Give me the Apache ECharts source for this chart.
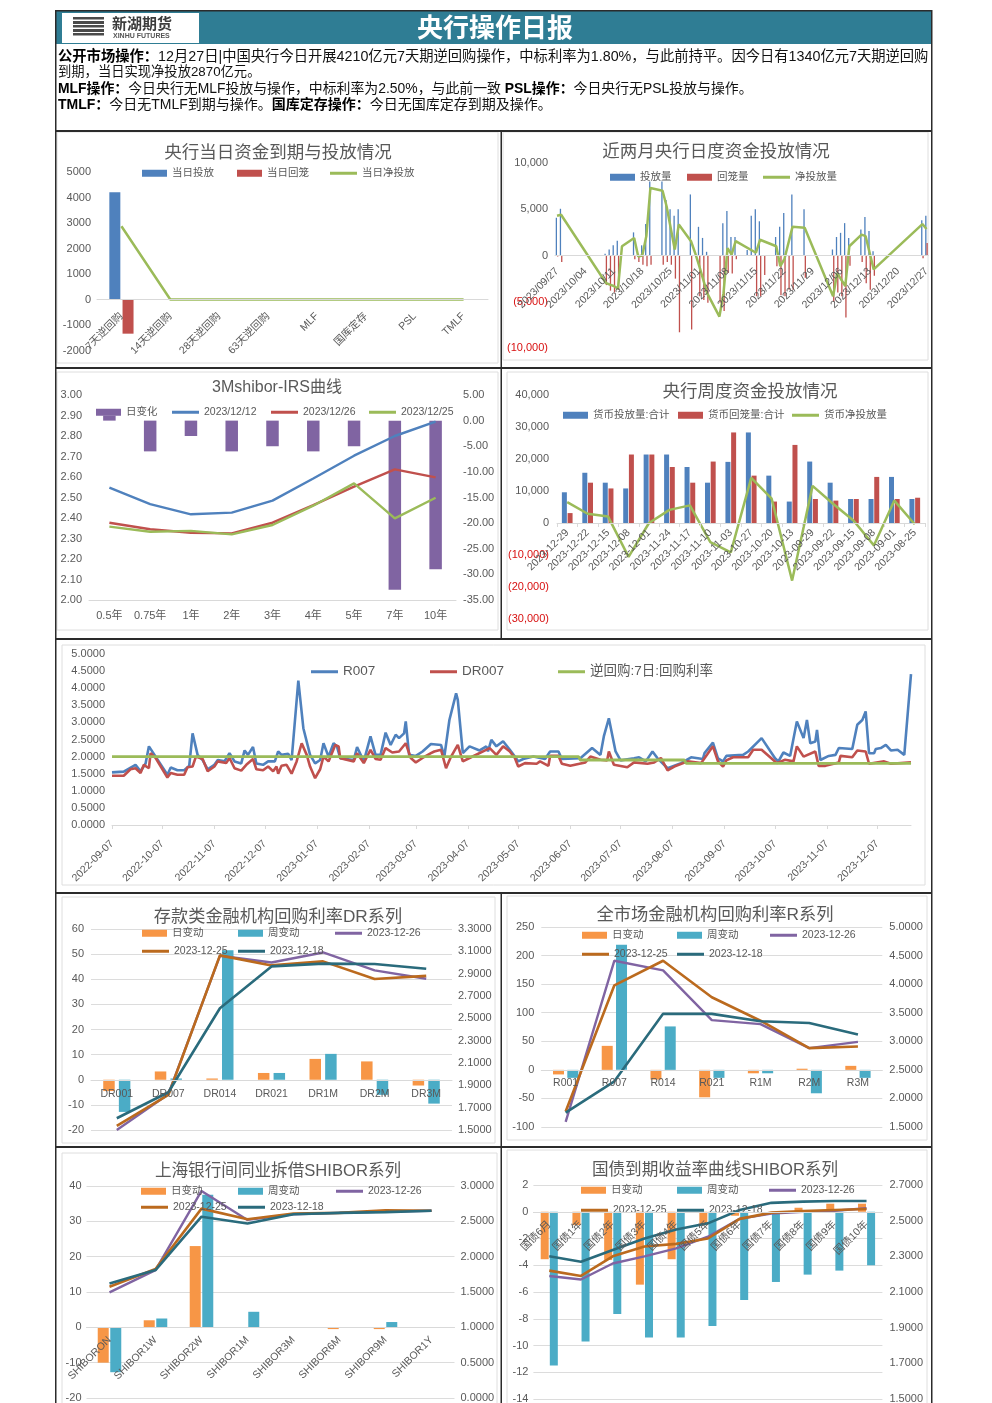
<!DOCTYPE html>
<html><head><meta charset="utf-8">
<style>html,body{margin:0;padding:0;background:#fff}#c{width:992px;height:1403px}</style>
<script src="https://cdn.jsdelivr.net/npm/echarts@6/dist/echarts.min.js"></script>
</head><body><div id="c"></div>
<script>
// ---------- data ----------
const todayCats=['7天逆回购','14天逆回购','28天逆回购','63天逆回购','MLF','国库定存','PSL','TMLF'];
const todayIn=[4210,0,0,0,0,0,0,0];
const todayOut=[-1340,0,0,0,0,0,0,0];
const todayNet=[2870,0,0,0,0,0,0,0];

// daily: [day index from 2023-09-27, value]
const dailyIn=[[0,4080],[1,5050],[12,200],[13,650],[14,1100],[15,1600],[19,2500],[21,1100],[22,3400],[23,8000],[26,8000],[27,6000],[28,5000],[29,4300],[30,5000],[33,6600],[35,3100],[36,1900],[37,400],[41,3500],[42,4800],[43,2000],[44,2000],[47,600],[48,4300],[49,5000],[50,3700],[54,2000],[55,3100],[56,4600],[58,6600],[61,5000],[68,650],[69,2000],[70,2450],[71,3500],[72,1900],[75,2800],[76,4150],[77,2650],[78,470],[90,3800],[91,4300]];
const dailyOut=[[0,-100],[1,-700],[12,-3200],[13,-3800],[14,-4000],[15,-3700],[19,-400],[20,-700],[21,-1000],[22,-1150],[23,-1000],[26,-1000],[27,-700],[28,-1000],[29,-2500],[30,-8300],[33,-8000],[35,-4400],[36,-4800],[37,-5100],[40,-5100],[41,-6000],[42,-1900],[43,-1950],[44,-400],[49,-4400],[50,-4400],[51,-2100],[54,-1150],[55,-4300],[56,-4400],[57,-3700],[58,-3700],[61,-2400],[68,-5000],[69,-4000],[70,-4400],[71,-6700],[72,-1100],[75,-700],[76,-3000],[77,-3700],[78,-2200],[90,-300],[91,1340]];
const dailyNet=[[0,4300],[1,4400],[12,-2950],[13,-3150],[14,-3300],[15,-3600],[16,1000],[19,1900],[20,-100],[21,0],[22,2100],[23,7300],[26,7000],[27,5300],[29,650],[30,3350],[33,1550],[34,300],[35,-1100],[37,-4100],[40,-6600],[41,-4100],[42,800],[43,100],[44,1550],[49,300],[50,1700],[54,1000],[55,-1150],[56,-400],[58,3100],[61,3000],[68,-4400],[69,-1900],[71,-3300],[72,1000],[75,2250],[76,2100],[78,-1500],[90,3400],[91,2870]];

const irsTenors=['0.5年','0.75年','1年','2年','3年','4年','5年','7年','10年'];
const irsChange=[1,-6,-3,-6,-5,-6,-5,-33,-29];
const irs1212=[2.548,2.468,2.418,2.426,2.485,2.593,2.704,2.80,2.87];
const irs1226=[2.377,2.345,2.328,2.325,2.377,2.463,2.553,2.637,2.598];
const irs1225=[2.358,2.333,2.337,2.32,2.366,2.46,2.569,2.398,2.499];

const weekDates=['2023-12-29','2023-12-22','2023-12-15','2023-12-08','2023-12-01','2023-11-24','2023-11-17','2023-11-10','2023-11-03','2023-10-27','2023-10-20','2023-10-13','2023-09-29','2023-09-22','2023-09-15','2023-09-08','2023-09-01','2023-08-25'];
const weekIn=[9600,15700,12600,10800,21400,21400,17500,12600,19100,28300,14800,6700,19200,12600,7500,7500,14400,7500];
const weekOut=[3100,12600,10800,21400,21400,17500,12600,19200,28300,14800,6700,24400,7500,7000,7500,14400,7500,7900];
const weekNet=[6500,2900,2000,-10600,0,4100,5500,-6000,-9200,14100,7600,-18000,11600,6000,800,-7000,7000,-400];

// rates: [day index from 2022-09-07, value]
const r007=[[0,1.54],[7,1.56],[14,1.76],[17,1.57],[20,1.8],[22,2.3],[26,2.0],[33,1.47],[35,1.68],[39,1.6],[43,1.6],[46,1.73],[48,2.68],[51,2.05],[54,1.9],[57,1.63],[61,1.76],[63,1.9],[67,1.86],[70,2.1],[73,1.86],[77,1.8],[79,2.18],[81,2.05],[84,2.28],[86,1.8],[90,1.76],[93,1.86],[97,1.86],[99,2.15],[101,2.05],[105,2.08],[107,1.9],[111,4.22],[114,2.83],[118,2.05],[121,1.8],[124,1.9],[126,2.39],[129,2.0],[132,2.39],[134,2.3],[136,1.95],[144,1.9],[146,2.28],[150,1.86],[154,2.59],[157,2.05],[160,2.05],[163,2.7],[166,2.34],[169,2.64],[171,2.54],[174,2.68],[175,3.03],[177,2.05],[181,2.02],[185,2.15],[190,2.37],[196,2.34],[198,2.0],[201,3.07],[205,3.85],[206,3.66],[209,2.1],[213,2.3],[219,2.18],[223,2.3],[224,2.15],[226,2.49],[229,2.3],[233,2.45],[237,2.2],[240,2.0],[242,1.86],[245,1.93],[251,2.0],[258,1.93],[261,2.15],[266,2.15],[268,1.93],[279,1.95],[286,2.25],[291,2.05],[293,2.59],[296,3.12],[300,2.15],[303,1.89],[311,1.95],[314,1.98],[318,1.86],[322,2.15],[325,1.95],[331,1.66],[339,1.81],[345,1.98],[352,1.93],[353,2.1],[358,2.41],[361,1.95],[364,1.86],[366,2.02],[376,2.05],[379,2.15],[387,2.54],[395,1.95],[397,1.86],[400,2.12],[404,2.02],[408,3.03],[412,2.54],[414,3.07],[416,2.39],[419,2.44],[420,2.78],[422,1.9],[427,2.02],[431,2.05],[433,2.25],[441,2.22],[444,2.93],[447,3.07],[449,3.32],[451,2.1],[454,2.1],[455,2.22],[458,2.25],[461,2.34],[464,2.18],[468,2.2],[472,2.05],[476,4.41]];
const dr007=[[0,1.44],[7,1.44],[11,1.63],[14,1.66],[17,1.52],[19,1.76],[22,1.66],[23,2.1],[26,1.96],[33,1.39],[35,1.52],[39,1.47],[43,1.47],[45,1.69],[48,1.71],[50,2.0],[54,1.93],[57,1.57],[61,1.71],[63,1.86],[68,1.81],[70,1.96],[73,1.66],[77,1.59],[80,1.76],[84,1.93],[86,1.63],[90,1.6],[93,1.71],[96,1.57],[98,1.71],[99,1.5],[101,1.73],[104,1.76],[107,1.5],[110,1.86],[113,2.39],[116,2.05],[118,1.71],[121,1.37],[124,1.63],[126,2.0],[129,1.86],[133,2.34],[135,2.3],[136,1.95],[144,1.86],[146,2.1],[150,1.81],[154,2.2],[157,1.93],[160,1.91],[163,2.25],[167,2.12],[171,2.15],[175,2.39],[178,1.96],[181,1.83],[185,1.96],[190,2.1],[192,2.15],[196,2.2],[199,1.66],[202,2.0],[206,2.34],[209,1.86],[213,1.96],[225,2.25],[229,2.05],[233,2.3],[237,2.15],[240,1.96],[242,1.71],[246,1.81],[253,1.79],[255,1.86],[260,1.73],[261,2.02],[266,2.02],[268,1.79],[273,1.73],[282,1.83],[285,2.0],[291,1.91],[295,1.89],[296,2.15],[299,1.76],[307,1.69],[311,1.83],[319,1.79],[323,1.83],[327,1.96],[331,1.6],[335,1.71],[343,1.86],[351,1.81],[358,2.3],[361,1.86],[364,1.71],[366,1.89],[370,1.98],[379,1.98],[382,2.2],[387,2.2],[396,1.81],[401,1.91],[406,1.86],[408,2.3],[412,2.0],[419,2.15],[421,1.73],[425,1.73],[433,1.83],[434,2.02],[441,1.98],[444,2.18],[449,2.15],[451,1.79],[460,1.86],[464,1.79],[476,1.83]];
const repo7d=[[0,2.0],[278,2.0],[279,1.9],[341,1.9],[342,1.8],[476,1.8]];

const drCats=['DR001','DR007','DR014','DR021','DR1M','DR2M','DR3M'];
const drDay=[-4.5,3.3,0.5,2.7,8.3,7.3,-2.3];
const drWeek=[-12.8,0.5,51.5,2.7,10.3,-6,-9.5];
const dr1226=[1.5,1.82,3.06,3.0,3.09,2.93,2.855];
const dr1225=[1.536,1.814,3.064,2.974,3.01,2.852,2.88];
const dr1218=[1.605,1.838,2.59,2.965,2.99,2.986,2.944];

const rCats=['R001','R007','R014','R021','R1M','R2M','R3M'];
const rDay=[-8,42,-17,-48,-6,2,7];
const rWeek=[-14,219,76,-14,-6,-41,-14];
const r1226=[1.59,4.41,4.24,3.37,3.30,2.88,2.99];
const r1225=[1.77,3.98,4.41,3.77,3.36,2.88,2.91];
const r1218=[1.75,2.3,3.48,3.48,3.35,3.32,3.12];

const shCats=['SHIBORON','SHIBOR1W','SHIBOR2W','SHIBOR1M','SHIBOR3M','SHIBOR6M','SHIBOR9M','SHIBOR1Y'];
const shDay=[-10,2,23,0,0,-0.5,-0.5,0];
const shWeek=[-12.7,2.5,37.5,4.4,0,0,1.5,0];
const sh1226=[1.495,1.81,2.93,2.52,2.60,2.62,2.64,2.65];
const sh1225=[1.575,1.825,2.68,2.53,2.61,2.62,2.655,2.65];
const sh1218=[1.62,1.81,2.566,2.47,2.60,2.62,2.63,2.65];

const gvCats=['国债6月','国债1年','国债2年','国债3年','国债4年','国债5年','国债6年','国债7年','国债8年','国债9年','国债10年'];
const gvDay=[-3.55,-1,-3.6,-5.45,-3.55,-1,-0.3,0,0.3,0.6,0.6];
const gvWeek=[-11.5,-9.7,-7.65,-9.4,-9.4,-8.55,-6.6,-5.25,-4.7,-4.4,-4];
const gv1226=[2.19,2.17,2.26,2.30,2.345,2.41,2.51,2.54,2.55,2.556,2.57];
const gv1225=[2.22,2.19,2.30,2.355,2.37,2.40,2.51,2.545,2.554,2.56,2.565];
const gv1218=[2.30,2.27,2.335,2.40,2.45,2.485,2.56,2.60,2.607,2.61,2.61];

const headerLines=[
 '{b|公开市场操作：}12月27日|中国央行今日开展4210亿元7天期逆回购操作，中标利率为1.80%，与此前持平。因今日有1340亿元7天期逆回购',
 '到期，当日实现净投放2870亿元。',
 '{b|MLF操作：}今日央行无MLF投放与操作，中标利率为2.50%，与此前一致 {b|PSL操作：}今日央行无PSL投放与操作。',
 '{b|TMLF：}今日无TMLF到期与操作。{b|国库定存操作：}今日无国库定存到期及操作。'
];

function dayList(startUTC,count,sep){
  const out=[];
  for(let i=0;i<count;i++){
    const d=new Date(startUTC+i*86400000);
    const p=n=>String(n).padStart(2,'0');
    out.push(d.getUTCFullYear()+sep+p(d.getUTCMonth()+1)+sep+p(d.getUTCDate()));
  }
  return out;
}
const dailyDates=dayList(Date.UTC(2023,8,27),92,'/');
const rateDates=dayList(Date.UTC(2022,8,7),477,'-');

// ---------- helpers ----------
const FONT='"Liberation Sans","Noto Sans CJK SC",sans-serif';
const GREY='#595959', AXIS='#d9d9d9', SPLIT='#dcdcdc';
const C={blue:'#4f81bd',red:'#c0504d',green:'#9bbb59',purple:'#8064a2',orange:'#f79646',teal:'#4bacc6',brown:'#bb6a1e',dark:'#2a6b7c'};
const O={title:[],legend:[],grid:[],xAxis:[],yAxis:[],series:[],graphic:[]};
function addTitle(text,cx,cy,size){
  O.title.push({text,left:cx,top:cy-size*0.5,textAlign:'center',padding:0,
    textStyle:{color:GREY,fontSize:size,fontWeight:'normal',fontFamily:FONT}});
}
function addLegend(name,x,y,kind,size){
  const isBar=kind==='bar';
  O.legend.push({data:[{name,icon:'rect'}],left:x,top:y-6,padding:0,selectedMode:false,orient:'horizontal',
    itemWidth:isBar?25:27,itemHeight:isBar?7:3,itemGap:0,
    textStyle:{color:GREY,fontSize:size||10.5,fontFamily:FONT}});
}
function addGrid(l,t,w,h){O.grid.push({left:l,top:t,width:w,height:h,containLabel:false,outerBoundsMode:'none'});return O.grid.length-1;}
function addX(grid,data,opts){
  const o=opts||{};
  O.xAxis.push({type:'category',gridIndex:grid,data,boundaryGap:o.boundaryGap!==false,position:'bottom',offset:o.offset||0,z:5,
    axisLine:{show:true,onZero:false,lineStyle:{color:AXIS,width:1}},
    axisTick:{show:!!o.tick,length:4,alignWithLabel:false,interval:o.interval!==undefined?o.interval:0,lineStyle:{color:AXIS}},
    axisLabel:{show:true,interval:o.interval!==undefined?o.interval:0,rotate:o.rotate||0,margin:o.margin||8,hideOverlap:false,
      color:GREY,fontSize:o.size||10.5,fontFamily:FONT},
    splitLine:{show:false}});
  return O.xAxis.length-1;
}
function addY(grid,min,max,interval,opts){
  const o=opts||{};
  O.yAxis.push({type:'value',gridIndex:grid,min,max,interval,position:o.right?'right':'left',
    axisLine:{show:false},axisTick:{show:false},
    splitLine:{show:!!o.split,lineStyle:{color:SPLIT,width:1}},
    axisLabel:{show:true,margin:o.margin||7,color:o.color||GREY,fontSize:11,fontFamily:FONT,formatter:o.fmt,showMinLabel:true,showMaxLabel:true}});
  return O.yAxis.length-1;
}
function bar(name,data,x,y,color,w,gap){
  O.series.push({type:'bar',name,data,xAxisIndex:x,yAxisIndex:y,barWidth:w,barGap:gap,
    itemStyle:{color},emphasis:{disabled:true},z:2});
}
function line(name,data,x,y,color,w){
  O.series.push({type:'line',name,data,xAxisIndex:x,yAxisIndex:y,symbol:'none',smooth:false,
    lineStyle:{color,width:w||2.4},itemStyle:{color},emphasis:{disabled:true},z:3});
}
const paren=v=>v<0?'('+Math.abs(v).toLocaleString('en-US')+')':v.toLocaleString('en-US');
const redNeg=v=>String(v).indexOf('(')===0||Number(v)<0?'#d81010':GREY;
const f2=v=>v.toFixed(2), f4=v=>v.toFixed(4), f0=v=>String(v);
const zeroOffset=(h,min,max)=>-h*(0-min)/(max-min);

// ---------- frames ----------
function rect(x,y,w,h,style,z){O.graphic.push({type:'rect',shape:{x,y,width:w,height:h},style,silent:true,z:z||0});}
[[57,132,441,231],[503,132,425,228],[57,372,441,258],[507,372,421,258],[62,645,863,240],[62,897,433,246],[507,896,420,244],[62,1153,435,260],[507,1150,420,263]]
 .forEach(r=>rect(r[0],r[1],r[2],r[3],{fill:'none',stroke:'#dedede',lineWidth:1}));
const K={fill:'#2b2b2b'};
rect(55,11,877,33,{fill:'#2f7d94'});
rect(62,13,137,30,{fill:'#fff'});
[17,21,25,29,33].forEach((y,i)=>rect(73,y,31,i%2?3:2.5,{fill:'#4a4a4a'}));
O.graphic.push({type:'text',x:112,y:16,style:{text:'新湖期货',fontSize:15,fontWeight:'bold',fill:'#3c3c3c',fontFamily:'"Noto Sans CJK SC"'},silent:true});
O.graphic.push({type:'text',x:113,y:33,style:{text:'XINHU FUTURES',fontSize:7,fontWeight:'bold',fill:'#555',fontFamily:FONT},silent:true});
O.graphic.push({type:'text',x:417,y:14,style:{text:'央行操作日报',fontSize:26,fontWeight:'bold',fill:'#fff',fontFamily:'"Noto Sans CJK SC"'},silent:true});
headerLines.forEach((t,i)=>{
  const fs=[14.3,13.3,13.9,14][i];
  O.graphic.push({type:'text',x:58,y:[49.5,65.5,82.5,98.5][i],silent:true,style:{text:t,fontSize:fs,fill:'#111',fontFamily:FONT,
    rich:{b:{fontWeight:'bold',fontSize:fs,fill:'#000',fontFamily:FONT}}}});
});
rect(55,10,1.5,1393,K,9); rect(931,10,1.5,1393,K,9);
rect(55,10,877,1.5,K,9); rect(55,130,877,2,K,9);
rect(55,367,877,2,K,9); rect(55,638,877,2,K,9); rect(55,892,877,2,K,9); rect(55,1146,877,2,K,9);
rect(500.5,131,1.5,508,K,9); rect(500.5,893,1.5,510,K,9);

// ---------- 1 today ----------
{
  addTitle('央行当日资金到期与投放情况',278,153,17.5);
  const g=addGrid(97,172,391,178.5), x=addX(g,todayCats,{rotate:45,margin:15,offset:zeroOffset(178.5,-2000,5000)}), y=addY(g,-2000,5000,1000,{fmt:f0,margin:6});
  bar('当日投放',todayIn,x,y,C.blue,11,'20%'); bar('当日回笼',todayOut,x,y,C.red,11,'20%'); line('当日净投放',todayNet,x,y,C.green,2.5);
  addLegend('当日投放',142,174,'bar'); addLegend('当日回笼',237,174,'bar'); addLegend('当日净投放',330,174,'line');
}
// ---------- 2 daily ----------
{
  addTitle('近两月央行日度资金投放情况',716,152,17.5);
  const g=addGrid(555,163,373.5,185), x=addX(g,dailyDates,{rotate:45,margin:14,interval:6,offset:zeroOffset(185,-10000,10000)}), y=addY(g,-10000,10000,5000,{fmt:paren,color:v=>redNeg(v)});
  bar('投放量',dailyIn,x,y,C.blue,1.3,'0%'); bar('回笼量',dailyOut,x,y,C.red,1.3,'0%'); line('净投放量',dailyNet,x,y,C.green,2.5);
  addLegend('投放量',610,178,'bar'); addLegend('回笼量',687,178,'bar'); addLegend('净投放量',763,178,'line');
}
// ---------- 3 IRS ----------
{
  addTitle('3Mshibor-IRS曲线',277,388,16);
  const g=addGrid(89,395,367,205), x=addX(g,irsTenors,{margin:10,size:11});
  const yl=addY(g,2,3,0.1,{fmt:f2}), yr=addY(g,-35,5,5,{fmt:f2,right:true});
  bar('日变化',irsChange,x,yr,C.purple,12.5);
  line('2023/12/12',irs1212,x,yl,C.blue); line('2023/12/26',irs1226,x,yl,C.red); line('2023/12/25',irs1225,x,yl,C.green);
  addLegend('日变化',96,413,'bar'); addLegend('2023/12/12',172,413,'line'); addLegend('2023/12/26',271,413,'line'); addLegend('2023/12/25',369,413,'line');
}
// ---------- 4 weekly ----------
{
  addTitle('央行周度资金投放情况',750,392,17.5);
  const g=addGrid(557,395,368,224), x=addX(g,weekDates,{rotate:45,margin:8,tick:true,offset:zeroOffset(224,-30000,40000)}), y=addY(g,-30000,40000,10000,{fmt:paren,color:v=>redNeg(v),margin:8});
  bar('货币投放量:合计',weekIn,x,y,C.blue,5,'14%'); bar('货币回笼量:合计',weekOut,x,y,C.red,5,'14%'); line('货币净投放量',weekNet,x,y,C.green,2.5);
  addLegend('货币投放量:合计',563,416,'bar'); addLegend('货币回笼量:合计',678,416,'bar'); addLegend('货币净投放量',792,416,'line');
}
// ---------- 5 rates ----------
{
  const isTick=(i,v)=>v.slice(-3)==='-07';
  const g=addGrid(112,654,799,171), x=addX(g,rateDates,{rotate:45,margin:17,interval:isTick,tick:true,boundaryGap:false}), y=addY(g,0,5,0.5,{fmt:f4});
  line('R007',r007,x,y,C.blue,2.6); line('DR007',dr007,x,y,C.red,2.6); line('逆回购:7日:回购利率',repo7d,x,y,C.green,2.8);
  addLegend('R007',311,671,'line',13.5); addLegend('DR007',430,671,'line',13.5); addLegend('逆回购:7日:回购利率',558,671,'line',13.5);
}
// ---------- 6..9 paired bar/line panels ----------
function pair(cfg){
  addTitle(cfg.title,cfg.cx,cfg.cy,cfg.ts);
  const g=addGrid(cfg.l,cfg.t,cfg.w,cfg.h);
  const x=addX(g,cfg.cats,{rotate:cfg.rotate,margin:cfg.margin,offset:zeroOffset(cfg.h,cfg.lMin,cfg.lMax)});
  const yl=addY(g,cfg.lMin,cfg.lMax,cfg.lInt,{fmt:f0,split:true,margin:cfg.lm});
  const yr=addY(g,cfg.rMin,cfg.rMax,cfg.rInt,{fmt:f4,right:true,margin:cfg.rm});
  bar('日变动',cfg.day,x,yl,C.orange,cfg.bw,cfg.gap); bar('周变动',cfg.week,x,yl,C.teal,cfg.bw,cfg.gap);
  line('2023-12-26',cfg.a,x,yr,C.purple); line('2023-12-25',cfg.b,x,yr,C.brown,2.6); line('2023-12-18',cfg.c,x,yr,C.dark,2.6);
  const L=cfg.leg;
  addLegend('日变动',L[0],L[3],'bar'); addLegend('周变动',L[1],L[3],'bar'); addLegend('2023-12-26',L[2],L[3],'line');
  addLegend('2023-12-25',L[0],L[4],'line'); addLegend('2023-12-18',L[1],L[4],'line');
}
pair({title:'存款类金融机构回购利率DR系列',cx:278,cy:917,ts:17.2,l:91,t:929,w:361,h:201,cats:drCats,margin:9,
  lMin:-20,lMax:60,lInt:10,rMin:1.5,rMax:3.3,rInt:0.2,lm:7,rm:6,day:drDay,week:drWeek,a:dr1226,b:dr1225,c:dr1218,bw:11.5,gap:'36%',
  leg:[142,238,335,934,952]});
pair({title:'全市场金融机构回购利率R系列',cx:715,cy:915,ts:17.3,l:541.3,t:927,w:341,h:200,cats:rCats,margin:8,
  lMin:-100,lMax:250,lInt:50,rMin:1.5,rMax:5,rInt:0.5,lm:7,rm:7,day:rDay,week:rWeek,a:r1226,b:r1225,c:r1218,bw:11,gap:'30%',
  leg:[582,677,770,936,955]});
pair({title:'上海银行间同业拆借SHIBOR系列',cx:278,cy:1171,ts:16.6,l:86.5,t:1186,w:368,h:212,cats:shCats,rotate:45,margin:11,
  lMin:-20,lMax:40,lInt:10,rMin:0,rMax:3,rInt:0.5,lm:5,rm:6,day:shDay,week:shWeek,a:sh1226,b:sh1225,c:sh1218,bw:11,gap:'14%',
  leg:[141,238,336,1192,1208]});
pair({title:'国债到期收益率曲线SHIBOR系列',cx:715,cy:1170,ts:16.6,l:533.4,t:1185,w:349,h:214,cats:gvCats,rotate:45,margin:11,
  lMin:-14,lMax:2,lInt:2,rMin:1.5,rMax:2.7,rInt:0.2,lm:5,rm:7,day:gvDay,week:gvWeek,a:gv1226,b:gv1225,c:gv1218,bw:8,gap:'14%',
  leg:[581,677,769,1191,1211]});

O.animation=false;
O.backgroundColor='#fff';
const chart=echarts.init(document.getElementById('c'),null,{renderer:'canvas'});
chart.setOption(O);
</script></body></html>
